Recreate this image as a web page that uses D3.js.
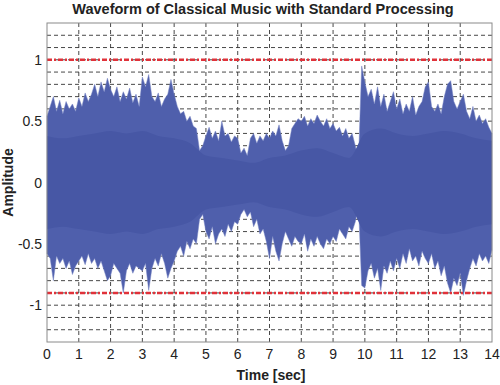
<!DOCTYPE html>
<html>
<head>
<meta charset="utf-8">
<script src="https://cdn.jsdelivr.net/npm/d3@7"></script>
<style>
  body { margin: 0; background: #fff; }
  svg { display: block; font-family: "Liberation Sans", Arial, sans-serif; }
</style>
</head>
<body>
<div id="chart"></div>
<script>
// 피크 포락선 (0.1초 간격, 0 ~ 14초)
const peakUpper = [
  0.54, 0.62, 0.70, 0.58, 0.67, 0.56, 0.66, 0.60, 0.64, 0.58,
  0.69, 0.62, 0.73, 0.66, 0.72, 0.80, 0.70, 0.82, 0.74, 0.85,
  0.76, 0.70, 0.78, 0.66, 0.74, 0.68, 0.77, 0.65, 0.72, 0.62,
  0.86, 0.78, 0.88, 0.70, 0.66, 0.73, 0.62, 0.68, 0.72, 0.84,
  0.72, 0.62, 0.56, 0.58, 0.50, 0.54, 0.46, 0.44, 0.26, 0.30,
  0.38, 0.45, 0.36, 0.42, 0.34, 0.50, 0.38, 0.40, 0.33, 0.38,
  0.36, 0.24, 0.28, 0.22, 0.36, 0.40, 0.32, 0.38, 0.34, 0.40,
  0.36, 0.42, 0.38, 0.47, 0.34, 0.26, 0.30, 0.44, 0.48, 0.52,
  0.50, 0.54, 0.46, 0.52, 0.48, 0.55, 0.50, 0.46, 0.52, 0.44,
  0.48, 0.42, 0.45, 0.38, 0.44, 0.36, 0.40, 0.30, 0.18, 0.95,
  0.82, 0.70, 0.76, 0.64, 0.78, 0.62, 0.72, 0.58, 0.66, 0.74,
  0.60, 0.68, 0.56, 0.64, 0.58, 0.70, 0.55, 0.62, 0.66, 0.78,
  0.82, 0.62, 0.58, 0.64, 0.56, 0.70, 0.80, 0.83, 0.66, 0.60,
  0.66, 0.72, 0.58, 0.52, 0.62, 0.50, 0.55, 0.48, 0.52, 0.45,
  0.40
];
const peakLower = [
  -0.58, -0.62, -0.80, -0.60, -0.66, -0.62, -0.70, -0.64, -0.75, -0.68,
  -0.64, -0.60, -0.67, -0.58, -0.66, -0.62, -0.70, -0.64, -0.72, -0.80,
  -0.76, -0.66, -0.70, -0.74, -0.90, -0.72, -0.66, -0.74, -0.68, -0.70,
  -0.72, -0.66, -0.88, -0.70, -0.62, -0.68, -0.58, -0.66, -0.78, -0.70,
  -0.64, -0.56, -0.52, -0.60, -0.48, -0.54, -0.46, -0.50, -0.30, -0.26,
  -0.40, -0.46, -0.36, -0.50, -0.42, -0.38, -0.44, -0.34, -0.40, -0.32,
  -0.34, -0.26, -0.22, -0.28, -0.24, -0.36, -0.30, -0.42, -0.38, -0.48,
  -0.62, -0.44, -0.56, -0.64, -0.50, -0.40, -0.46, -0.52, -0.44, -0.48,
  -0.50, -0.42, -0.56, -0.46, -0.52, -0.44, -0.50, -0.54, -0.46, -0.50,
  -0.44, -0.48, -0.38, -0.42, -0.46, -0.36, -0.40, -0.32, -0.18, -0.84,
  -0.86, -0.72, -0.66, -0.78, -0.70, -0.88, -0.68, -0.74, -0.64, -0.72,
  -0.62, -0.70, -0.58, -0.66, -0.54, -0.64, -0.60, -0.68, -0.56, -0.62,
  -0.66, -0.58, -0.70, -0.64, -0.76, -0.68, -0.82, -0.90, -0.78, -0.84,
  -0.74, -0.92, -0.80, -0.70, -0.62, -0.68, -0.58, -0.64, -0.60, -0.66,
  -0.55
];
// 밀집된 중심부 (0.5초 간격)
const coreLevel = [
  0.38, 0.36, 0.38, 0.40, 0.42, 0.40, 0.42, 0.38, 0.36, 0.32,
  0.22, 0.20, 0.18, 0.16, 0.20, 0.22, 0.26, 0.28, 0.24, 0.20,
  0.40, 0.44, 0.40, 0.38, 0.40, 0.42, 0.40, 0.36, 0.34
];
const xTicks = d3.range(0, 15);
const yTicks = [-1, -0.5, 0, 0.5, 1];
const yGrid = d3.range(-12, 13).map(d => d / 10);
const limitLines = [1, -0.9];

const width = 500, height = 385;
const margin = { top: 23, right: 8, bottom: 43, left: 47 };

const svg = d3.select('#chart')
  .append('svg')
  .attr('width', width)
  .attr('height', height);

const x = d3.scaleLinear().domain([0, 14]).range([margin.left, width - margin.right]);
const y = d3.scaleLinear().domain([-1.3, 1.3]).range([height - margin.bottom, margin.top]);

// 그리드
svg.append('g')
  .selectAll('line')
  .data(yGrid)
  .join('line')
  .attr('x1', x(0)).attr('x2', x(14))
  .attr('y1', d => y(d)).attr('y2', d => y(d))
  .attr('stroke', '#333')
  .attr('stroke-width', 0.9)
  .attr('stroke-dasharray', '4,3');

svg.append('g')
  .selectAll('line')
  .data(xTicks.slice(1, -1))
  .join('line')
  .attr('x1', d => x(d)).attr('x2', d => x(d))
  .attr('y1', y(1.3)).attr('y2', y(-1.3))
  .attr('stroke', '#333')
  .attr('stroke-width', 0.9)
  .attr('stroke-dasharray', '4,3');

// 파형
const peakData = peakUpper.map((u, i) => ({ t: i / 10, u: u, l: peakLower[i] }));
const coreData = coreLevel.map((c, i) => ({ t: i / 2, c: c }));

svg.append('path')
  .datum(peakData)
  .attr('fill', '#4f5fac')
  .attr('stroke', '#7482c2')
  .attr('stroke-width', 0.5)
  .attr('d', d3.area()
    .x(d => x(d.t))
    .y0(d => y(d.l))
    .y1(d => y(d.u)));

svg.append('path')
  .datum(coreData)
  .attr('fill', '#4757a5')
  .attr('d', d3.area()
    .curve(d3.curveMonotoneX)
    .x(d => x(d.t))
    .y0(d => y(-d.c))
    .y1(d => y(d.c)));

// 빨간 기준선
svg.append('g')
  .selectAll('line')
  .data(limitLines)
  .join('line')
  .attr('x1', x(0)).attr('x2', x(14))
  .attr('y1', d => y(d)).attr('y2', d => y(d))
  .attr('stroke', '#e0323a')
  .attr('stroke-width', 2.5)
  .attr('stroke-dasharray', '5,2,2,2');

// 축 테두리
svg.append('rect')
  .attr('x', x(0)).attr('y', y(1.3))
  .attr('width', x(14) - x(0))
  .attr('height', y(-1.3) - y(1.3))
  .attr('fill', 'none')
  .attr('stroke', '#8a8a8a')
  .attr('stroke-width', 1);

// 눈금 레이블
svg.append('g')
  .selectAll('text')
  .data(xTicks)
  .join('text')
  .attr('x', d => x(d))
  .attr('y', y(-1.3) + 17)
  .attr('text-anchor', 'middle')
  .attr('font-size', '14px')
  .attr('fill', '#222')
  .text(d => d);

svg.append('g')
  .selectAll('text')
  .data(yTicks)
  .join('text')
  .attr('x', x(0) - 5)
  .attr('y', d => y(d) + 5)
  .attr('text-anchor', 'end')
  .attr('font-size', '14px')
  .attr('fill', '#222')
  .text(d => d);

// 제목 및 축 이름
svg.append('text')
  .attr('x', 263)
  .attr('y', 14)
  .attr('text-anchor', 'middle')
  .attr('font-size', '14.5px')
  .attr('font-weight', 'bold')
  .attr('fill', '#222')
  .text('Waveform of Classical Music with Standard Processing');

svg.append('text')
  .attr('x', 271)
  .attr('y', 380)
  .attr('text-anchor', 'middle')
  .attr('font-size', '14px')
  .attr('font-weight', 'bold')
  .attr('fill', '#222')
  .text('Time [sec]');

svg.append('text')
  .attr('transform', `translate(13, ${y(0)}) rotate(-90)`)
  .attr('text-anchor', 'middle')
  .attr('font-size', '14px')
  .attr('font-weight', 'bold')
  .attr('fill', '#222')
  .text('Amplitude');
</script>
</body>
</html>
